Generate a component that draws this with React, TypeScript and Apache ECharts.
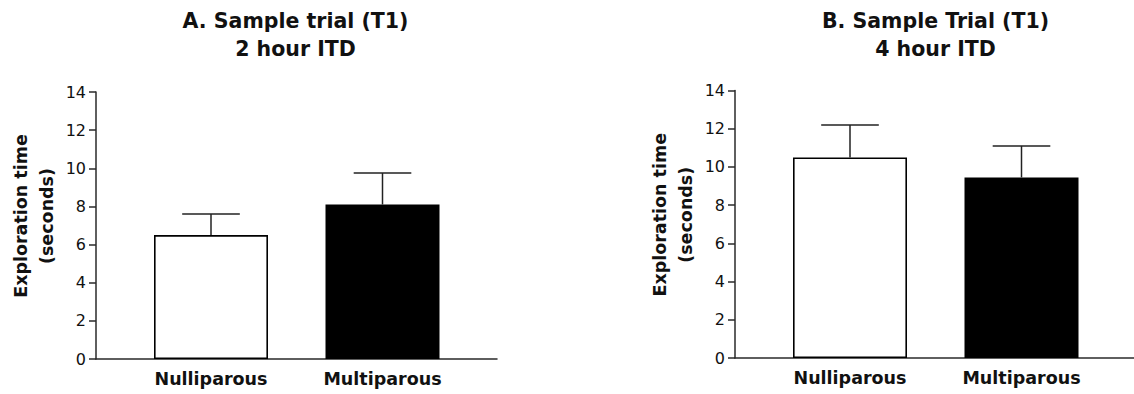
import React, { useEffect, useRef } from "react";
import * as echarts from "echarts";

const categories = ["Nulliparous", "Multiparous"];
const meanA = [6.5, 8.1];
const errA = [1.1, 1.65];
const meanB = [10.5, 9.45];
const errB = [1.7, 1.65];
const yTicks = { min: 0, max: 14, interval: 2 };
const titleA = "A. Sample trial (T1)\n2 hour ITD";
const titleB = "B. Sample Trial (T1)\n4 hour ITD";
const yName = "Exploration time\n(seconds)";

const FONT = "DejaVu Sans";
const INK = "#111";
const AXIS = "#2a2a2a";

export default function App() {
  const ref = useRef<HTMLDivElement>(null);
  useEffect(() => {
    if (!ref.current) return;
    const chart = echarts.init(ref.current, null, { renderer: "svg" });

    const panels = [
      { left: 96, top: 92, height: 267, mean: meanA, err: errA, title: titleA, cx: 295.5 },
      { left: 735, top: 90.5, height: 267.5, mean: meanB, err: errB, title: titleB, cx: 935.5 },
    ];

    const grid: any[] = [];
    const xAxis: any[] = [];
    const yAxis: any[] = [];
    const series: any[] = [];
    const graphic: any[] = [];

    panels.forEach((p, i) => {
      const frameIdx = i * 2;
      const barIdx = i * 2 + 1;
      grid.push({ left: p.left, top: p.top, height: p.height, width: 401 });
      grid.push({ left: p.left + 29.25, top: p.top, height: p.height, width: 343 });

      // frame axes
      xAxis.push({
        gridIndex: frameIdx, type: "value", min: 0, max: 1,
        axisLine: { show: true, lineStyle: { color: AXIS, width: 1.5 } },
        axisTick: { show: false }, axisLabel: { show: false }, splitLine: { show: false },
      });
      yAxis.push({
        gridIndex: frameIdx, type: "value", ...yTicks,
        axisLine: { show: true, lineStyle: { color: AXIS, width: 1.5 } },
        axisTick: { show: true, length: 7, lineStyle: { color: AXIS, width: 1.5 } },
        axisLabel: { fontFamily: FONT, fontSize: 16, color: INK, margin: 10 },
        splitLine: { show: false },
        name: yName, nameLocation: "middle", nameRotate: 90, nameGap: 36,
        nameTextStyle: { fontFamily: FONT, fontWeight: "bold", fontSize: 17.5, lineHeight: 26, color: INK, padding: [0, 0, 0, 19] },
      });
      // bar axes
      xAxis.push({
        gridIndex: barIdx, type: "category", data: categories,
        axisLine: { show: false }, axisTick: { show: false },
        axisLabel: { fontFamily: FONT, fontWeight: "bold", fontSize: 17.5, color: INK, margin: 11 },
      });
      yAxis.push({
        gridIndex: barIdx, type: "value", ...yTicks, show: false, splitLine: { show: false },
      });

      series.push({
        type: "bar", xAxisIndex: barIdx, yAxisIndex: barIdx, barWidth: 114,
        data: p.mean.map((v, k) => ({
          value: v,
          itemStyle: k === 0
            ? { color: "#ffffff", borderColor: "#000", borderWidth: 1.6 }
            : { color: "#000000", borderColor: "#000", borderWidth: 0 },
        })),
      });
      series.push({
        type: "custom", xAxisIndex: barIdx, yAxisIndex: barIdx, z: 5,
        encode: { x: 0, y: [1, 2] },
        data: p.mean.map((v, k) => [k, v, v + p.err[k]]),
        renderItem: (params: any, api: any) => {
          const x = api.value(0);
          const base = api.coord([x, api.value(1)]);
          const top = api.coord([x, api.value(2)]);
          const half = api.size([1, 0])[0] * 0.168;
          const style = { stroke: "#222", lineWidth: 1.5 };
          return {
            type: "group",
            children: [
              { type: "line", shape: { x1: base[0], y1: base[1], x2: top[0], y2: top[1] }, style },
              { type: "line", shape: { x1: top[0] - half, y1: top[1], x2: top[0] + half, y2: top[1] }, style },
            ],
          };
        },
      });

      graphic.push({
        type: "text", x: p.cx, y: 34.5,
        style: {
          text: p.title, textAlign: "center", textVerticalAlign: "middle",
          fontFamily: FONT, fontWeight: "bold", fontSize: 20.5, lineHeight: 28, fill: INK,
        },
      });
    });

    chart.setOption({ animation: false, grid, xAxis, yAxis, series, graphic });
    return () => chart.dispose();
  }, []);

  return <div ref={ref} style={{ position: "fixed", left: 0, top: 0, width: 1134, height: 394, background: "#fff" }} />;
}
